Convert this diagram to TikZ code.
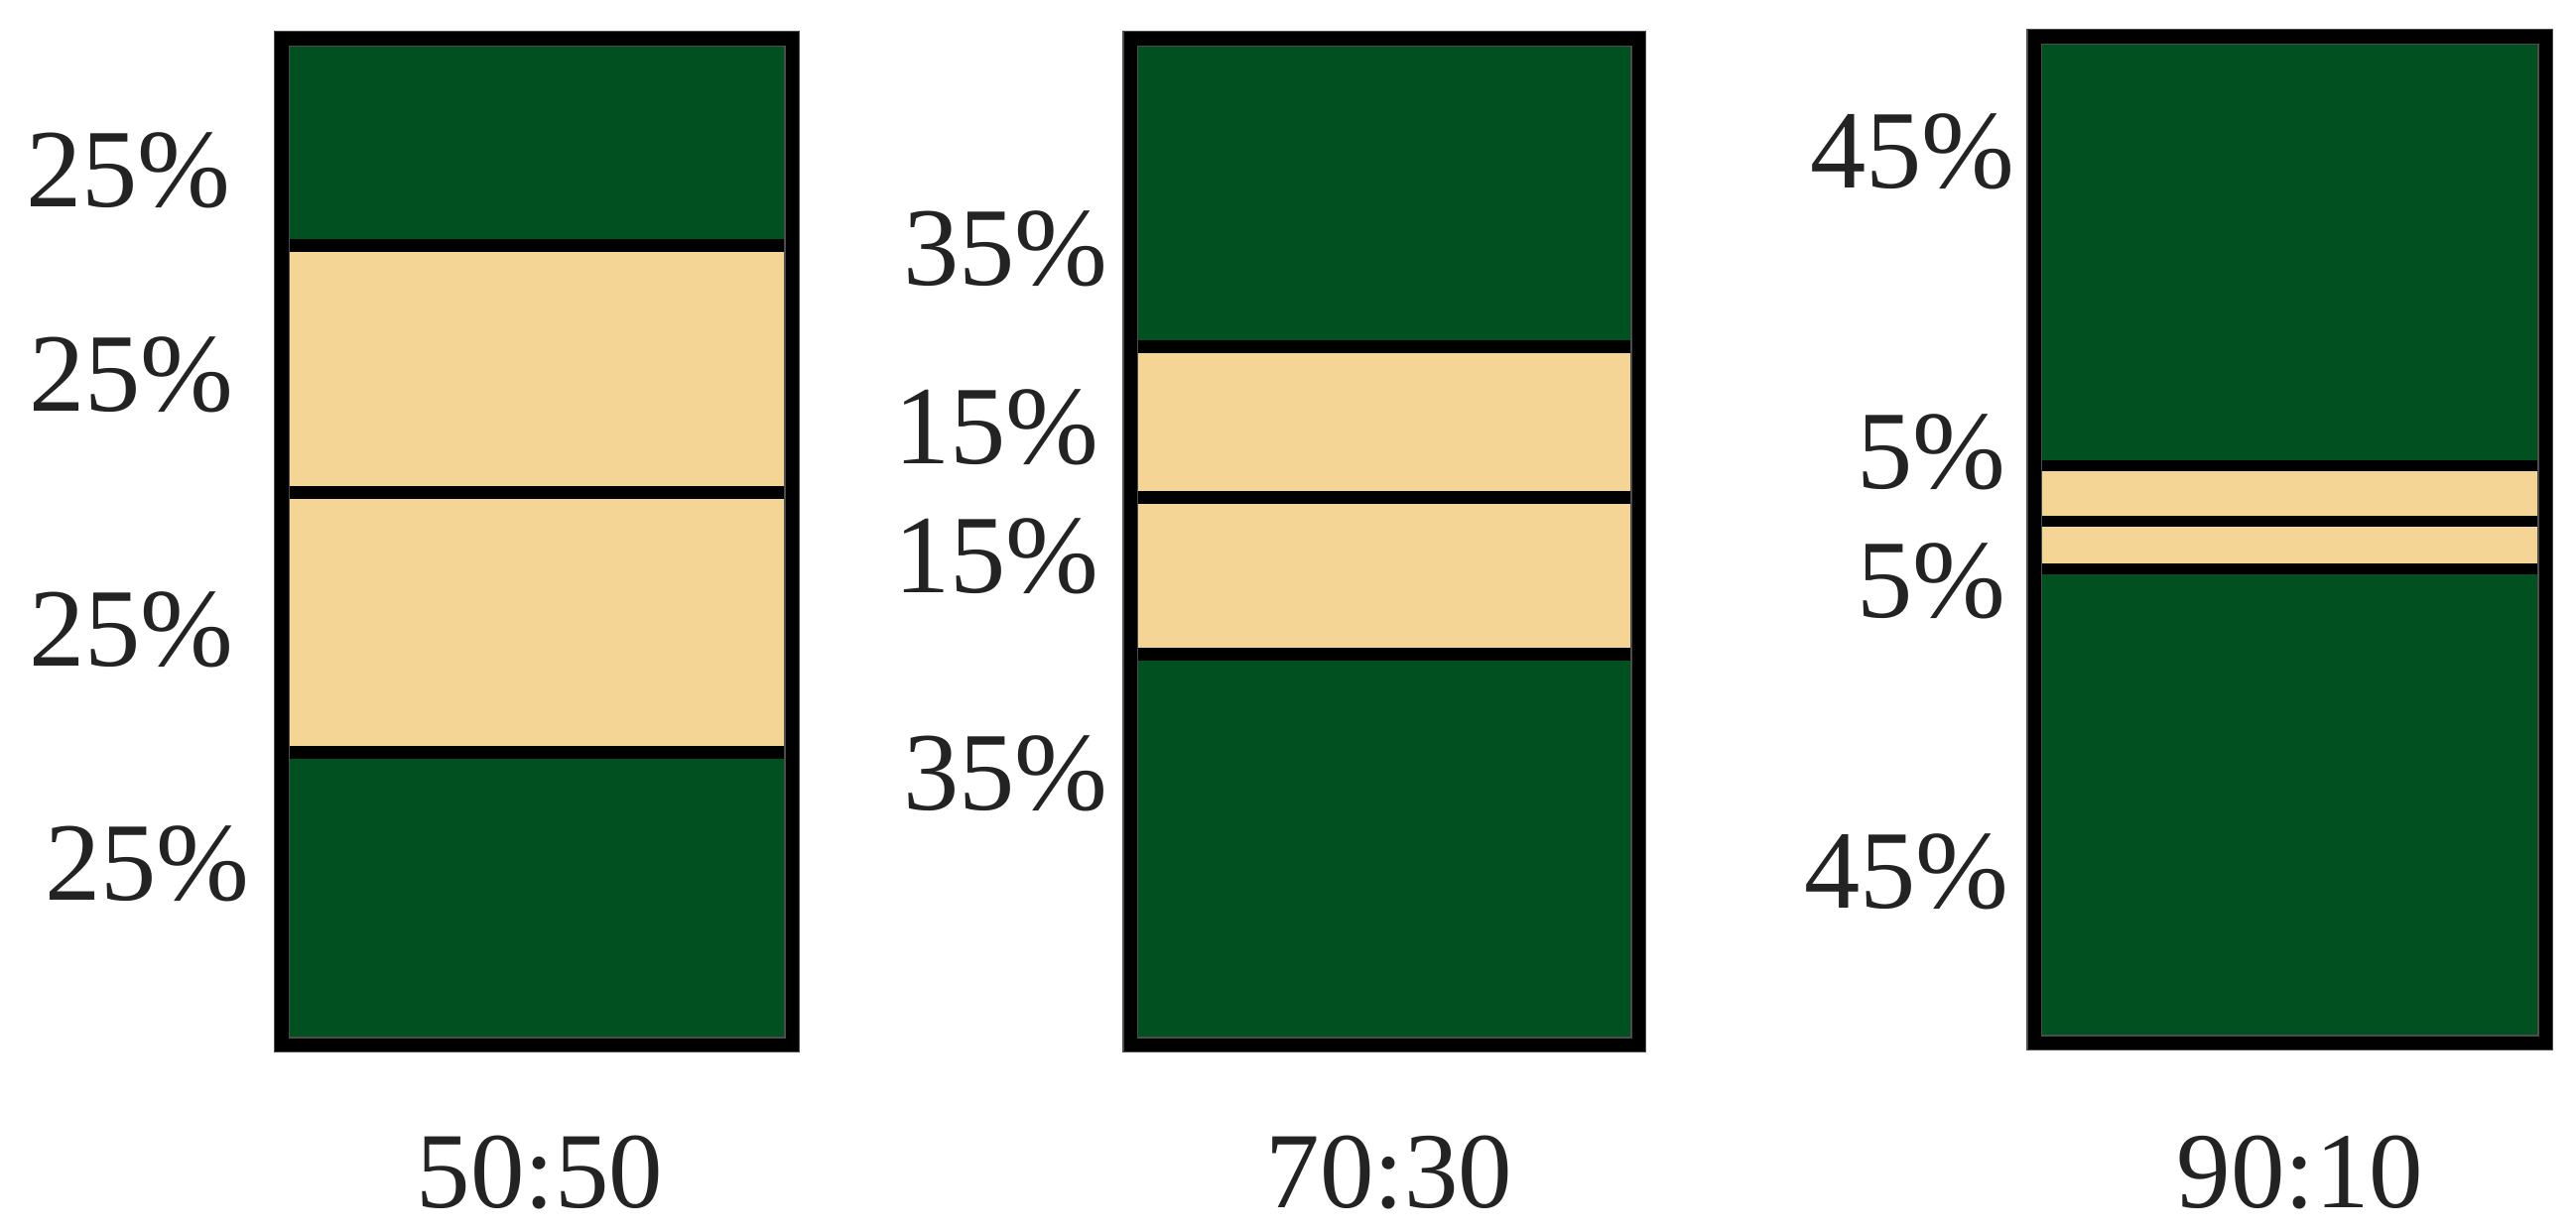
\documentclass[tikz,border=0pt]{standalone}
\usepackage{fontspec}
\setmainfont{Liberation Serif}
\definecolor{leaf}{RGB}{0,80,32}
\definecolor{wood}{RGB}{245,213,150}
\definecolor{txt}{RGB}{35,35,35}
\tikzset{
  boxline/.style={draw=black,line width=0.13cm},
  halo/.style={draw=black!70,line width=0.16cm},
  sepline/.style={draw=black,line width=0.13cm},
  thinsep/.style={draw=black,line width=0.11cm},
  woodfill/.style={fill=wood},
  pct/.style={anchor=base east,inner sep=0pt,text=txt,font=\fontsize{32}{38}\selectfont},
  ratio/.style={anchor=base,inner sep=0pt,text=txt,font=\fontsize{31}{37}\selectfont}
}
\begin{document}
\begin{tikzpicture}[x=0.01cm,y=-0.01cm]
\useasboundingbox (0,0) rectangle (2596,1242);
% ---- box 1 (50:50)
\fill[leaf] (284,39) rectangle (798,1053);
\fill[woodfill] (284,247) rectangle (798,496);
\fill[woodfill] (284,496) rectangle (798,758);
\draw[sepline] (284,247) -- (798,247);
\draw[sepline] (284,496) -- (798,496);
\draw[sepline] (284,758) -- (798,758);
\draw[halo] (284,39) rectangle (798,1053);
\draw[boxline] (284,39) rectangle (798,1053);
% ---- box 2 (70:30)
\fill[leaf] (1139,39) rectangle (1651,1053);
\fill[woodfill] (1139,349) rectangle (1651,501);
\fill[woodfill] (1139,501) rectangle (1651,659);
\draw[sepline] (1139,349) -- (1651,349);
\draw[sepline] (1139,501) -- (1651,501);
\draw[sepline] (1139,659) -- (1651,659);
\draw[halo] (1139,39) rectangle (1651,1053);
\draw[boxline] (1139,39) rectangle (1651,1053);
% ---- box 3 (90:10)
\fill[leaf] (2050,37) rectangle (2565,1051);
\fill[woodfill] (2050,469) rectangle (2565,525);
\fill[woodfill] (2050,525) rectangle (2565,573);
\draw[thinsep] (2050,469) -- (2565,469);
\draw[thinsep] (2050,525) -- (2565,525);
\draw[thinsep] (2050,573) -- (2565,573);
\draw[halo] (2050,37) rectangle (2565,1051);
\draw[boxline] (2050,37) rectangle (2565,1051);
% ---- labels box 1
\node[pct] (a1) at (233,208) {25\%};
\node[pct] (a2) at (236,414) {25\%};
\node[pct] (a3) at (236,671) {25\%};
\node[pct] (a4) at (252,907) {25\%};
% ---- labels box 2
\node[pct] (b1) at (1117,287) {35\%};
\node[pct] (b2) at (1108,467) {15\%};
\node[pct] (b3) at (1108,597) {15\%};
\node[pct] (b4) at (1117,816) {35\%};
% ---- labels box 3
\node[pct] (c1) at (2031,189) {45\%};
\node[pct] (c2) at (2022,492) {5\%};
\node[pct] (c3) at (2022,622) {5\%};
\node[pct] (c4) at (2025,915) {45\%};
% ---- ratios
\node[ratio] (r1) at (544,1217) {50:50};
\node[ratio] (r2) at (1400,1217) {70:30};
\node[ratio] (r3) at (2318,1217) {90:10};
\end{tikzpicture}
\end{document}
